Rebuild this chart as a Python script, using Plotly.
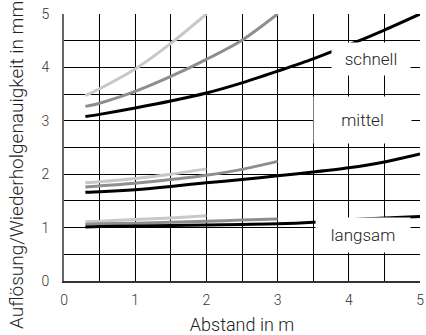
import plotly.graph_objects as go

# ---- data ----
x_hell = [0.3, 0.5, 1.0, 1.5, 2.0]
x_mittelgrau = [0.3, 0.5, 1.0, 1.5, 2.0, 2.5, 3.0]
x_schwarz = [0.3, 0.5, 1.0, 1.5, 2.0, 2.5, 3.0, 3.5, 4.0, 4.5, 5.0]

schnell_hell = [3.47, 3.60, 3.97, 4.45, 5.0]
schnell_mittelgrau = [3.27, 3.33, 3.55, 3.83, 4.15, 4.51, 5.0]
schnell_schwarz = [3.08, 3.12, 3.24, 3.37, 3.52, 3.71, 3.93, 4.16, 4.42, 4.70, 5.0]

mittel_hell = [1.84, 1.86, 1.92, 2.0, 2.1]
mittel_mittelgrau = [1.76, 1.78, 1.83, 1.90, 1.98, 2.09, 2.24]
mittel_schwarz = [1.66, 1.67, 1.71, 1.77, 1.84, 1.90, 1.97, 2.04, 2.12, 2.23, 2.38]

langsam_hell = [1.11, 1.12, 1.15, 1.18, 1.22]
langsam_mittelgrau = [1.06, 1.07, 1.08, 1.10, 1.12, 1.14, 1.16]
langsam_schwarz = [1.01, 1.02, 1.03, 1.04, 1.05, 1.06, 1.07, 1.10, 1.15, 1.18, 1.21]

tick_vals = [0, 1, 2, 3, 4, 5]
tick_text = ["0", "1", "2", "3", "4", "5"]

labels = ["schnell", "mittel", "langsam"]
label_x = [4.31, 4.19, 4.2]
label_y = [4.165, 3.02, 0.86]
label_w = [78, 97, 94]
label_h = [32, 46, 34]

y_title = "Auflösung/Wiederholgenauigkeit in mm"
x_title = "Abstand in m"

# ---- styles ----
c_hell = "#c8c8c8"
c_grau = "#8e8e8e"
c_schwarz = "#000000"
lw = 3
fam = "Roboto"

fig = go.Figure()
series = [
    (x_hell, schnell_hell, c_hell), (x_hell, mittel_hell, c_hell), (x_hell, langsam_hell, c_hell),
    (x_mittelgrau, schnell_mittelgrau, c_grau), (x_mittelgrau, mittel_mittelgrau, c_grau),
    (x_mittelgrau, langsam_mittelgrau, c_grau),
    (x_schwarz, schnell_schwarz, c_schwarz), (x_schwarz, mittel_schwarz, c_schwarz),
    (x_schwarz, langsam_schwarz, c_schwarz),
]
for xs, ys, col in series:
    fig.add_trace(go.Scatter(x=xs, y=ys, mode="lines",
                             line=dict(color=col, width=lw, shape="spline", smoothing=0.8),
                             showlegend=False, hoverinfo="skip", cliponaxis=False))

for t, ax, ay, w, h in zip(labels, label_x, label_y, label_w, label_h):
    fig.add_annotation(x=ax, y=ay, xref="x", yref="y", text=t, showarrow=False,
                       width=w, height=h, bgcolor="white", borderpad=0,
                       font=dict(size=17, color="#222", family=fam, weight=300))

# y-axis title as a rotated annotation, centred slightly below the plot centre
fig.add_annotation(x=-0.135, y=0.434, xref="paper", yref="paper", text=y_title,
                   textangle=-90, showarrow=False, xanchor="center", yanchor="middle",
                   font=dict(size=19, color="#222", family=fam, weight=300))

tickfont = dict(family=fam, size=14, color="#333", weight=300)
titlefont = dict(family=fam, size=18, color="#222", weight=300)
fig.update_xaxes(range=[0, 5], tickvals=tick_vals, ticktext=tick_text, automargin=False,
                 ticklabeloverflow="allow",
                 showgrid=True, gridcolor="black", gridwidth=1,
                 minor=dict(dtick=0.5, showgrid=True, gridcolor="black", gridwidth=1),
                 zeroline=False, showline=True, linecolor="#333", linewidth=1.5,
                 ticks="", ticklabelstandoff=5, tickfont=tickfont,
                 title=dict(text=x_title, font=titlefont, standoff=12))
fig.update_yaxes(range=[0, 5], tickvals=tick_vals, ticktext=tick_text, automargin=False,
                 ticklabeloverflow="allow",
                 showgrid=True, gridcolor="black", gridwidth=1,
                 minor=dict(dtick=0.5, showgrid=True, gridcolor="black", gridwidth=1),
                 zeroline=False, showline=True, linecolor="#666", linewidth=2,
                 ticks="", ticklabelstandoff=10, tickfont=tickfont)
fig.update_layout(width=426, height=335, margin=dict(l=64, r=6, t=14, b=54),
                  plot_bgcolor="white", paper_bgcolor="white",
                  font=dict(family=fam, size=14, color="#333"))
fig.write_html("out.html", config={"displayModeBar": False},
               post_script="document.body.style.margin='0';")
